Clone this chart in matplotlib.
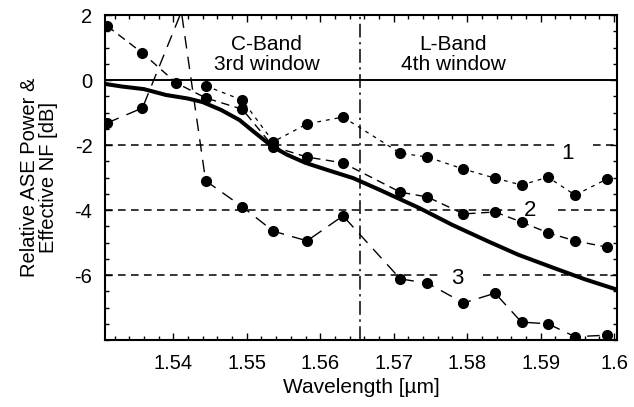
import matplotlib
matplotlib.use("Agg")
import matplotlib.pyplot as plt
from matplotlib.ticker import MultipleLocator, FixedLocator

plt.rcParams['font.family'] = ['Liberation Sans', 'DejaVu Sans']
plt.rcParams['axes.unicode_minus'] = False

# Solid thick curve (relative ASE power)
ase_x = [1.5307, 1.533, 1.536, 1.5375, 1.539, 1.542, 1.544, 1.5465, 1.549, 1.551,
         1.5535, 1.5555, 1.558, 1.561, 1.5645, 1.568, 1.5735, 1.578, 1.583, 1.587,
         1.592, 1.596, 1.6004]
ase_y = [-0.12, -0.2, -0.28, -0.37, -0.46, -0.57, -0.68, -0.92, -1.23, -1.6,
         -2.05, -2.3, -2.55, -2.77, -3.02, -3.37, -3.94, -4.46, -4.98, -5.38,
         -5.8, -6.13, -6.45]

# Series 1 (fine dashes)
s1_x = [1.5444, 1.5494, 1.5536, 1.5582, 1.5631, 1.5709, 1.5746, 1.5795,
        1.5838, 1.5874, 1.5910, 1.5947, 1.5990]
s1_y = [-0.18, -0.62, -1.9, -1.35, -1.14, -2.25, -2.37, -2.74,
        -3.02, -3.23, -2.99, -3.54, -3.05]

# Series 2 (medium dashes)
s2_x = [1.5310, 1.5358, 1.5404, 1.5444, 1.5494, 1.5536, 1.5582, 1.5631,
        1.5709, 1.5746, 1.5795, 1.5838, 1.5874, 1.5910, 1.5947, 1.5990]
s2_y = [1.66, 0.83, -0.09, -0.55, -0.9, -2.05, -2.37, -2.55,
        -3.45, -3.6, -4.12, -4.06, -4.37, -4.7, -4.95, -5.14]

# Series 3 (long dashes)
s3_x = [1.5310, 1.5358, 1.5411, 1.5444, 1.5494, 1.5536, 1.5582, 1.5631,
        1.5709, 1.5746, 1.5795, 1.5838, 1.5874, 1.5910, 1.5947, 1.5990]
s3_y = [-1.32, -0.86, 2.1, -3.1, -3.9, -4.65, -4.95, -4.18,
        -6.12, -6.25, -6.86, -6.56, -7.45, -7.5, -7.9, -7.85]

x_ticks = [1.54, 1.55, 1.56, 1.57, 1.58, 1.59, 1.60]
x_tick_labels = ['1.54', '1.55', '1.56', '1.57', '1.58', '1.59', '1.6']
y_ticks = [2, 0, -2, -4, -6]
y_tick_labels = ['2', '0', '-2', '-4', '-6']

ref_levels = [-2, -4, -6]
ref_labels = ['1', '2', '3']
label_x = [1.5936, 1.5886, 1.5786]
label_y = [-2.25, -4.0, -6.1]
gap_lo = [1.5920, 1.5868, 1.5766]
gap_hi = [1.5971, 1.5924, 1.5822]

band_x = 1.5654
xmin, xmax = 1.5307, 1.6004

fig = plt.figure(figsize=(6.34, 4.07), dpi=100)
ax = fig.add_axes([0.1656, 0.1646, 0.9732 - 0.1656, 0.9631 - 0.1646])
ax.set_xlim(xmin, xmax)
ax.set_ylim(-8, 2)

# reference dashed levels with gaps for labels
for lev, lo, hi in zip(ref_levels, gap_lo, gap_hi):
    ax.plot([xmin, lo], [lev, lev], color='black', lw=1.1, dashes=(5, 3.5))
    ax.plot([hi, xmax], [lev, lev], color='black', lw=1.1, dashes=(5, 3.5))
for t, lx, ly in zip(ref_labels, label_x, label_y):
    ax.text(lx, ly, t, fontsize=16, ha='center', va='center')

ax.axhline(0, color='black', lw=1.4)
ax.axvline(band_x, color='black', lw=1.1, dashes=(9, 3, 1.5, 3))

ax.plot(ase_x, ase_y, color='black', lw=2.9, solid_capstyle='round')
ax.plot(s1_x, s1_y, color='black', lw=0.9, dashes=(3, 4),
        marker='o', ms=7)
ax.plot(s2_x, s2_y, color='black', lw=1.0, dashes=(6, 4),
        marker='o', ms=7)
ax.plot(s3_x, s3_y, color='black', lw=1.0, dashes=(9, 6),
        marker='o', ms=7, markevery=[i for i in range(len(s3_x)) if i != 2])

ax.text(1.5527, 0.78, 'C-Band\n3rd window', fontsize=15, ha='center', va='center',
        linespacing=1.1)
ax.text(1.5781, 0.78, 'L-Band\n4th window', fontsize=15, ha='center', va='center',
        linespacing=1.1)

ax.xaxis.set_major_locator(FixedLocator(x_ticks))
ax.set_xticklabels(x_tick_labels)
ax.xaxis.set_minor_locator(MultipleLocator(0.002))
ax.yaxis.set_major_locator(FixedLocator(y_ticks))
ax.set_yticklabels(y_tick_labels)
ax.yaxis.set_minor_locator(MultipleLocator(0.5))
ax.tick_params(which='both', direction='in', top=True, right=True,
               labelsize=14.5, width=1, color='black')
ax.tick_params(which='major', length=5)
ax.tick_params(axis='x', which='major', pad=10)
ax.tick_params(axis='y', which='major', pad=9)
ax.tick_params(which='minor', length=3)
for s in ax.spines.values():
    s.set_linewidth(1.5)

ax.set_xlabel('Wavelength [µm]', fontsize=15, labelpad=4)
ax.set_ylabel('Relative ASE Power &\nEffective NF [dB]', fontsize=14.5, labelpad=12,
              linespacing=1.0)

fig.savefig('out.png', dpi=100)
